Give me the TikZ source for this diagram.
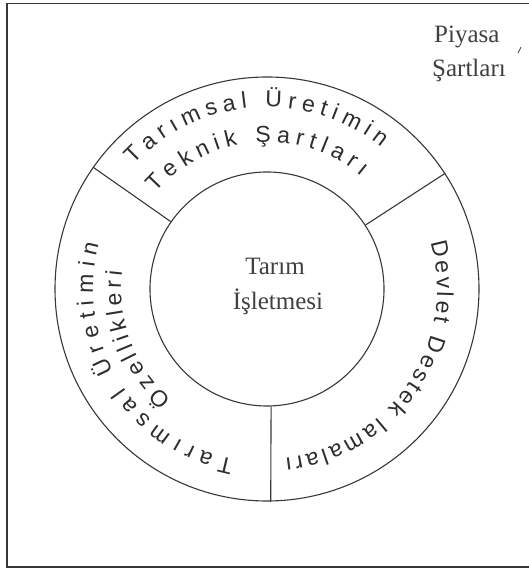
\documentclass[tikz,border=0pt]{standalone}
\usepackage{fontspec}
\setmainfont{Liberation Serif}
\newfontfamily\handfont{Liberation Sans}
\usetikzlibrary{decorations.text}
\newcommand{\hf}{\handfont\fontsize{23}{23}\selectfont}
\begin{document}
\begin{tikzpicture}[x=1pt,y=1pt,
  ln/.style={draw=black!78, line width=1.1pt},
  hand/.style={decorate, decoration={text along path, text align={fit to path}, text color=black!82}},
  printed/.style={font=\fontsize{25}{29}\selectfont, text=black!75, inner sep=0pt}]
\useasboundingbox (0,0) rectangle (529,572);
\fill[white] (0,0) rectangle (529,572);
% frame (right side lies outside the picture)
\draw[ln, line width=1.7pt] (530,568.5) -- (7,568.5) -- (7,5) -- (530,5);
% rings
\coordinate (C) at (267,283);
\node[ln, circle, minimum size=424pt, inner sep=0pt] (outer) at (C) {};
\node[ln, circle, minimum size=234pt, inner sep=0pt] (inner) at (C) {};
\draw[ln] (inner.145.7) -- (outer.145.7);
\draw[ln] (inner.33.3) -- (outer.33.3);
\draw[ln] (inner.-88.5) -- (outer.-89.5);
% centre text
\node[printed, anchor=base] (t1) at (275,297) {Tarım};
\node[printed, anchor=base] (t2) at (278,262) {İşletmesi};
% corner text
\node[printed, anchor=base west] (p1) at (434,529) {Piyasa};
\node[printed, anchor=base west] (p2) at (432,495) {Şartları};
\draw[black!70, line width=0.9pt] (518,519) -- (521,525);
% handwritten texts along the ring (clockwise, letters outward)
\path[hand, decoration={text={|\hf|Tarımsal Üretimin}}]
  ([shift={(C)}]137:182pt) arc[start angle=137, end angle=51, radius=182pt];
\path[hand, decoration={text={|\hf|Teknik Şartları}}]
  ([shift={(C)}]139:147pt) arc[start angle=139, end angle=50, radius=147pt];
\path[hand, decoration={text={|\hf|Devlet Destek lamaları}}]
  ([shift={(C)}]16:170pt) arc[start angle=16, end angle=-84, radius=170pt];
\path[hand, decoration={text={|\hf|Tarımsal Üretimin}}]
  ([shift={(C)}]259:174pt) arc[start angle=259, end angle=165, radius=174pt];
\path[hand, decoration={text={|\hf|Özellikleri}}]
  ([shift={(C)}]229:146pt) arc[start angle=229, end angle=173, radius=146pt];
\end{tikzpicture}
\end{document}
